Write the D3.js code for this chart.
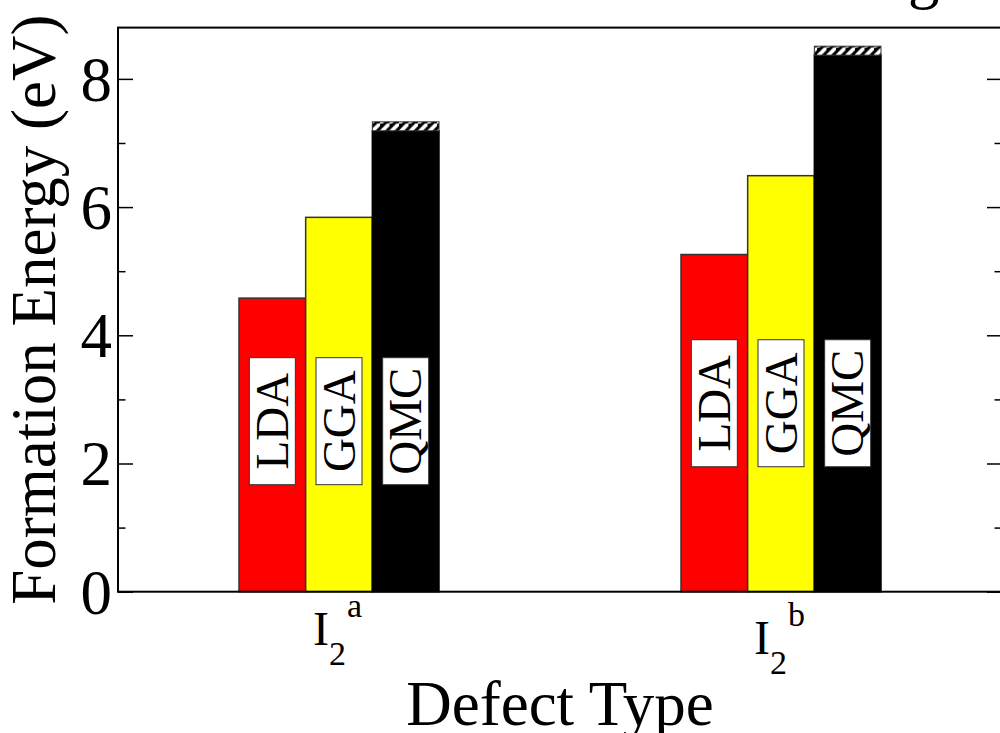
<!DOCTYPE html>
<html>
<head>
<meta charset="utf-8">
<script src="https://cdn.jsdelivr.net/npm/d3@7"></script>
<style>
html,body{margin:0;padding:0;background:#fff;}
svg{display:block;}
text{font-family:"Liberation Serif","Times New Roman",serif;fill:#000;}
</style>
</head>
<body>
<svg id="chart" width="1000" height="733"></svg>
<script>
// ---- data ----
const categories = ["I2a", "I2b"];
const tickBase = ["I", "I"];
const tickSub = ["2", "2"];
const tickSup = ["a", "b"];
const methods = ["LDA", "GGA", "QMC"];
const ldaValues = [4.58, 5.26];
const ggaValues = [5.84, 6.49];
const qmcValues = [7.26, 8.44];
const qmcErrors = [0.07, 0.07];
const yMajorTicks = [0, 2, 4, 6, 8];
const yMinorTicks = [1, 3, 5, 7];
const methodColors = ["#ff0000", "#ffff00", "#000000"];

const svg = d3.select("#chart");
const L = 118, R = 1002, T = 27.6, B = 591.7;

const x = d3.scaleBand().domain(categories).range([L, R]).padding(0);
const xm = d3.scaleBand().domain(methods).range([-100, 100]).padding(0);
const y = d3.scaleLinear().domain([0, 8.8]).range([B, T]);

const series = [ldaValues, ggaValues, qmcValues];

// hatch pattern
const defs = svg.append("defs");
const pat = defs.append("pattern").attr("id", "hatch")
  .attr("patternUnits", "userSpaceOnUse").attr("width", 9.5).attr("height", 9.5);
pat.append("rect").attr("width", 9.5).attr("height", 9.5).attr("fill", "#000");
pat.append("path").attr("d", "M-2,11.5 L11.5,-2 M-4,2 L2,-4 M7.5,13.5 L13.5,7.5")
  .attr("stroke", "#fff").attr("stroke-width", 3.8);

// x-axis ticks (inward, behind bars)
svg.append("g").attr("transform", `translate(0,${B})`)
  .call(d3.axisBottom(x).tickSize(-15).tickFormat(""))
  .call(g => g.select(".domain").remove())
  .selectAll("line").attr("stroke", "#000").attr("stroke-width", 1.5);

// bars
categories.forEach((cat, ci) => {
  const cx = x(cat) + x.bandwidth() / 2;
  methods.forEach((m, mi) => {
    const v = series[mi][ci];
    const x0 = cx + xm(m);
    if (m === "QMC") {
      const lo = v - qmcErrors[ci], hi = v + qmcErrors[ci];
      svg.append("rect").attr("x", x0).attr("y", y(lo)).attr("width", xm.bandwidth())
        .attr("height", y(0) - y(lo)).attr("fill", methodColors[mi])
        .attr("stroke", "#000").attr("stroke-width", 1.5);
      svg.append("rect").attr("x", x0).attr("y", y(hi)).attr("width", xm.bandwidth())
        .attr("height", y(lo) - y(hi)).attr("fill", "url(#hatch)")
        .attr("stroke", "#333").attr("stroke-width", 1);
    } else {
      svg.append("rect").attr("x", x0).attr("y", y(v)).attr("width", xm.bandwidth())
        .attr("height", y(0) - y(v)).attr("fill", methodColors[mi])
        .attr("stroke", "#333").attr("stroke-width", 1.5);
    }
  });
});

// in-bar method labels
const labelCenters = [2.66, 2.94];
categories.forEach((cat, ci) => {
  const cx = x(cat) + x.bandwidth() / 2;
  methods.forEach((m, mi) => {
    const bx = cx + xm(m) + xm.bandwidth() / 2;
    const by = y(labelCenters[ci]);
    svg.append("rect").attr("x", bx - 23).attr("y", by - 63.5)
      .attr("width", 46).attr("height", 127).attr("fill", "#fff")
      .attr("stroke", "#333").attr("stroke-width", 1);
    svg.append("text").attr("transform", `translate(${bx + 15.5},${by}) rotate(-90)`)
      .attr("text-anchor", "middle").attr("font-size", 47).text(m);
  });
});

// frame
svg.append("rect").attr("x", L).attr("y", T).attr("width", R - L).attr("height", B - T)
  .attr("fill", "none").attr("stroke", "#000").attr("stroke-width", 2);

// y axis left
const yl = svg.append("g").attr("transform", `translate(${L},0)`);
yl.call(d3.axisLeft(y).tickValues(yMajorTicks).tickSize(-15).tickPadding(6).tickFormat(d3.format("d")))
  .call(g => g.select(".domain").remove());
yl.selectAll("line").attr("stroke", "#000").attr("stroke-width", 1.5);
yl.selectAll("text").attr("font-size", 63).attr("font-family", "Liberation Serif").attr("dy", "0.34em");
const ylm = svg.append("g").attr("transform", `translate(${L},0)`);
ylm.call(d3.axisLeft(y).tickValues(yMinorTicks).tickSize(-7.5).tickFormat(""))
  .call(g => g.select(".domain").remove());
ylm.selectAll("line").attr("stroke", "#000").attr("stroke-width", 1.5);

// y axis right (mirror ticks)
const yr = svg.append("g").attr("transform", `translate(${R},0)`);
yr.call(d3.axisRight(y).tickValues(yMajorTicks).tickSize(-15).tickFormat(""))
  .call(g => g.select(".domain").remove());
yr.selectAll("line").attr("stroke", "#000").attr("stroke-width", 1.5);
const yrm = svg.append("g").attr("transform", `translate(${R},0)`);
yrm.call(d3.axisRight(y).tickValues(yMinorTicks).tickSize(-7.5).tickFormat(""))
  .call(g => g.select(".domain").remove());
yrm.selectAll("line").attr("stroke", "#000").attr("stroke-width", 1.5);

// x tick labels with sub/superscripts
categories.forEach((cat, ci) => {
  const cx = x(cat) + x.bandwidth() / 2 - 1.5;
  const shift = /[bdfhklt]/.test(tickSup[ci]) ? 9 : 0;
  const t = svg.append("text").attr("x", cx).attr("y", 645 + shift).attr("text-anchor", "middle");
  t.append("tspan").attr("font-size", 48).text(tickBase[ci]);
  t.append("tspan").attr("font-size", 34).attr("dy", 20).text(tickSub[ci]);
  t.append("tspan").attr("font-size", 34).attr("dy", -48).attr("dx", 1).text(tickSup[ci]);
});

// axis titles
svg.append("text").attr("x", (L + R) / 2).attr("y", 725).attr("text-anchor", "middle")
  .attr("font-size", 63).text("Defect Type");
svg.append("text").attr("transform", `translate(55,${(T + B) / 2}) rotate(-90)`)
  .attr("text-anchor", "middle").attr("font-size", 63).text("Formation Energy (eV)");

// cut-off title fragment at top right
svg.append("text").attr("x", 908).attr("y", -4).attr("font-size", 63).text("g");
</script>
</body>
</html>
